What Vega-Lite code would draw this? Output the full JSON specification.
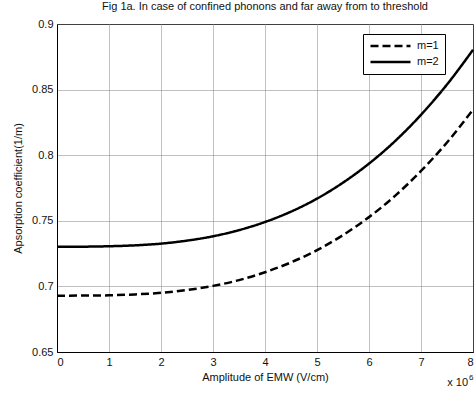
{
  "$schema": "https://vega.github.io/schema/vega-lite/v6.json",
  "autosize": {"type": "none"},
  "padding": {"left": 57, "top": 24, "right": 1, "bottom": 42},
  "width": 416,
  "height": 328,
  "background": "white",
  "title": {"text": "Fig 1a. In case of confined phonons and far away from to threshold", "font": "Liberation Sans", "fontSize": 11, "fontWeight": "normal", "color": "#111", "offset": 6},
  "data": {"values": [
    {"E": 0, "m": "m=1", "A": 0.6929}, {"E": 0.5, "m": "m=1", "A": 0.6930}, {"E": 1, "m": "m=1", "A": 0.6932}, {"E": 1.5, "m": "m=1", "A": 0.6939}, {"E": 2, "m": "m=1", "A": 0.6951}, {"E": 2.5, "m": "m=1", "A": 0.6972}, {"E": 3, "m": "m=1", "A": 0.7004}, {"E": 3.5, "m": "m=1", "A": 0.7048}, {"E": 4, "m": "m=1", "A": 0.7108}, {"E": 4.5, "m": "m=1", "A": 0.7183}, {"E": 5, "m": "m=1", "A": 0.7276}, {"E": 5.5, "m": "m=1", "A": 0.7391}, {"E": 6, "m": "m=1", "A": 0.7528}, {"E": 6.5, "m": "m=1", "A": 0.7690}, {"E": 7, "m": "m=1", "A": 0.7880}, {"E": 7.5, "m": "m=1", "A": 0.8097}, {"E": 8, "m": "m=1", "A": 0.8347},
    {"E": 0, "m": "m=2", "A": 0.7303}, {"E": 0.5, "m": "m=2", "A": 0.7303}, {"E": 1, "m": "m=2", "A": 0.7306}, {"E": 1.5, "m": "m=2", "A": 0.7313}, {"E": 2, "m": "m=2", "A": 0.7326}, {"E": 2.5, "m": "m=2", "A": 0.7349}, {"E": 3, "m": "m=2", "A": 0.7382}, {"E": 3.5, "m": "m=2", "A": 0.7429}, {"E": 4, "m": "m=2", "A": 0.7491}, {"E": 4.5, "m": "m=2", "A": 0.7570}, {"E": 5, "m": "m=2", "A": 0.7669}, {"E": 5.5, "m": "m=2", "A": 0.7791}, {"E": 6, "m": "m=2", "A": 0.7936}, {"E": 6.5, "m": "m=2", "A": 0.8107}, {"E": 7, "m": "m=2", "A": 0.8308}, {"E": 7.5, "m": "m=2", "A": 0.8539}, {"E": 8, "m": "m=2", "A": 0.8803}
  ]},
  "layer": [
    {
      "mark": {"type": "line", "color": "black", "strokeWidth": 2.5, "strokeCap": "butt", "interpolate": "monotone"},
      "encoding": {
        "x": {"field": "E", "type": "quantitative", "scale": {"domain": [0, 8], "nice": false, "zero": false},
          "axis": {"grid": true, "title": "Amplitude of EMW (V/cm)", "tickCount": 8, "format": "d", "ticks": false, "labelPadding": 4, "titlePadding": 4}},
        "y": {"field": "A", "type": "quantitative", "scale": {"domain": [0.65, 0.9], "nice": false, "zero": false},
          "axis": {"grid": true, "title": "Apsorption coefficient(1/m)", "tickCount": 5, "format": ".2~f", "ticks": false, "labelPadding": 4, "titlePadding": 8}},
        "strokeDash": {"field": "m", "type": "nominal", "scale": {"domain": ["m=1", "m=2"], "range": [[8, 4], [1, 0]]},
          "legend": {"title": null, "orient": "none", "legendX": 306, "legendY": 10, "fillColor": "white", "strokeColor": "black", "padding": 6, "symbolType": "stroke", "symbolSize": 1600, "clipHeight": 12, "symbolStrokeWidth": 2.5, "symbolStrokeColor": "black", "labelFontSize": 11, "labelFont": "Liberation Sans", "labelColor": "#111", "rowPadding": 4, "labelOffset": 5, "cornerRadius": 0}}
      }
    },
    {
      "data": {"values": [{"t": "x 10", "E": 8, "A": 0.65}]},
      "mark": {"type": "text", "align": "right", "baseline": "alphabetic", "dx": -5, "dy": 34, "fontSize": 11, "font": "Liberation Sans", "color": "#111"},
      "encoding": {"x": {"field": "E", "type": "quantitative"}, "y": {"field": "A", "type": "quantitative"}, "text": {"field": "t"}}
    },
    {
      "data": {"values": [{"t": "6", "E": 8, "A": 0.65}]},
      "mark": {"type": "text", "align": "left", "baseline": "alphabetic", "dx": -4, "dy": 28, "fontSize": 8, "font": "Liberation Sans", "color": "#111"},
      "encoding": {"x": {"field": "E", "type": "quantitative"}, "y": {"field": "A", "type": "quantitative"}, "text": {"field": "t"}}
    }
  ],
  "config": {
    "view": {"stroke": "black", "strokeWidth": 1},
    "axis": {"domainColor": "black", "tickColor": "black", "gridColor": "#808080", "gridDash": [1, 1], "gridOpacity": 1, "gridWidth": 1, "labelFont": "Liberation Sans", "labelFontSize": 11, "labelColor": "#111", "titleFont": "Liberation Sans", "titleFontSize": 11, "titleFontWeight": "normal", "titleColor": "#111", "domainWidth": 1}
  }
}
